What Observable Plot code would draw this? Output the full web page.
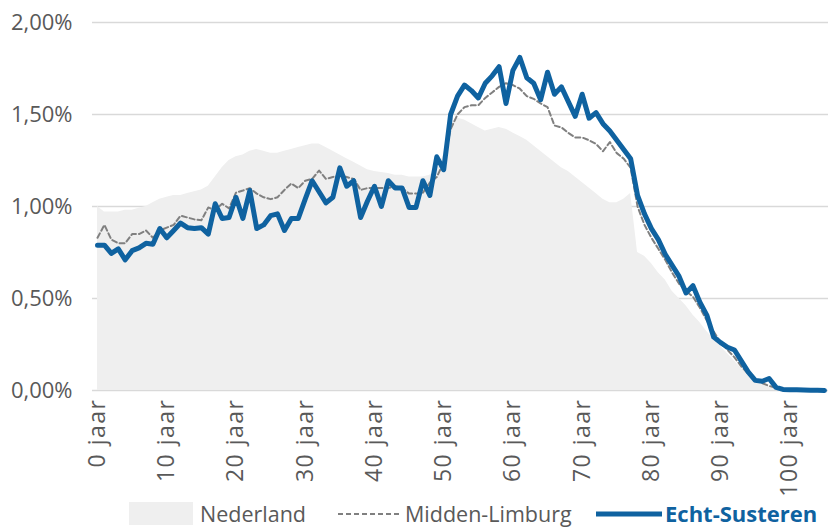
<!DOCTYPE html>
<html>
<head>
<meta charset="utf-8">
<script src="https://cdn.jsdelivr.net/npm/d3@7"></script>
<script src="https://cdn.jsdelivr.net/npm/@observablehq/plot@0.6"></script>
<style>
  html, body { margin: 0; padding: 0; background: #fff; }
  #wrap { width: 828px; font-family: "Open Sans", sans-serif; }
  #legend { position: relative; width: 828px; height: 27px; font-size: 21.5px; color: #595959; }
  #legend .it { position: absolute; top: 0; height: 27px; line-height: 27px; white-space: nowrap; }
</style>
</head>
<body>
<div id="wrap">
  <div id="chart"></div>
  <div id="legend"></div>
</div>
<script>
const ages = [0,1,2,3,4,5,6,7,8,9,10,11,12,13,14,15,16,17,18,19,20,21,22,23,24,25,26,27,28,29,30,31,32,33,34,35,36,37,38,39,40,41,42,43,44,45,46,47,48,49,50,51,52,53,54,55,56,57,58,59,60,61,62,63,64,65,66,67,68,69,70,71,72,73,74,75,76,77,78,79,80,81,82,83,84,85,86,87,88,89,90,91,92,93,94,95,96,97,98,99,100,101,102,103,104,105];

const nederland = [1.00,0.97,0.97,0.97,0.98,0.98,0.99,1.00,1.02,1.04,1.05,1.06,1.06,1.07,1.08,1.09,1.11,1.16,1.21,1.25,1.27,1.28,1.30,1.31,1.30,1.29,1.29,1.30,1.31,1.32,1.33,1.34,1.34,1.32,1.30,1.28,1.26,1.24,1.22,1.20,1.19,1.185,1.18,1.17,1.17,1.16,1.16,1.16,1.17,1.20,1.28,1.45,1.48,1.47,1.45,1.43,1.41,1.42,1.43,1.42,1.40,1.38,1.36,1.33,1.30,1.27,1.24,1.21,1.19,1.16,1.13,1.10,1.07,1.04,1.02,1.02,1.04,1.07,0.75,0.73,0.69,0.64,0.60,0.54,0.50,0.46,0.41,0.37,0.32,0.28,0.24,0.20,0.16,0.12,0.09,0.06,0.04,0.02,0.015,0.01,0.006,0.004,0.002,0.001,0.001,0];

const middenLimburg = [0.83,0.90,0.82,0.80,0.80,0.85,0.85,0.87,0.83,0.87,0.885,0.90,0.95,0.94,0.93,0.925,0.995,0.98,1.015,0.99,1.075,1.087,1.10,1.07,1.05,1.04,1.05,1.09,1.125,1.10,1.14,1.15,1.195,1.15,1.16,1.17,1.16,1.15,1.09,1.10,1.10,1.10,1.10,1.11,1.10,1.07,1.07,1.075,1.13,1.16,1.24,1.42,1.50,1.54,1.55,1.55,1.59,1.62,1.65,1.67,1.66,1.64,1.60,1.585,1.56,1.54,1.44,1.43,1.40,1.375,1.375,1.36,1.34,1.30,1.35,1.29,1.26,1.21,1.00,0.90,0.83,0.77,0.71,0.64,0.58,0.54,0.51,0.45,0.38,0.32,0.26,0.22,0.18,0.13,0.09,0.06,0.04,0.025,0.014,0.008,0.005,0.003,0.002,0.001,0.001,0];

const echtSusteren = [0.79,0.79,0.745,0.77,0.71,0.76,0.775,0.80,0.795,0.88,0.83,0.87,0.91,0.885,0.88,0.885,0.85,1.015,0.935,0.94,1.05,0.935,1.087,0.88,0.90,0.95,0.96,0.87,0.935,0.935,1.04,1.14,1.08,1.02,1.05,1.21,1.11,1.14,0.94,1.03,1.11,1.00,1.14,1.10,1.10,0.995,0.995,1.14,1.06,1.27,1.20,1.50,1.60,1.66,1.63,1.59,1.67,1.71,1.76,1.56,1.74,1.81,1.70,1.67,1.58,1.73,1.61,1.65,1.57,1.49,1.61,1.48,1.51,1.45,1.41,1.36,1.31,1.26,1.06,0.96,0.88,0.82,0.74,0.68,0.62,0.53,0.57,0.48,0.41,0.29,0.26,0.235,0.22,0.16,0.10,0.055,0.05,0.065,0.017,0.006,0.004,0.004,0.003,0.002,0.001,0];

const yTicks = [0, 0.5, 1, 1.5, 2];
const xTicks = [0, 10, 20, 30, 40, 50, 60, 70, 80, 90, 100];
const seriesNames = ["Nederland", "Midden-Limburg", "Echt-Susteren"];

const rows = ages.map((a, i) => ({age: a, nl: nederland[i], ml: middenLimburg[i], es: echtSusteren[i]}));

const blue = "#0f62a0";
const grid = "#d9d9d9";
const areaFill = "#efefef";
const dashCol = "#808080";

const chart = Plot.plot({
  width: 828,
  height: 500,
  marginLeft: 97,
  marginRight: 4,
  marginTop: 22,
  marginBottom: 110,
  style: {fontFamily: "'Open Sans', sans-serif", fontSize: "21px", color: "#595959", background: "white", overflow: "visible"},
  x: {domain: [0, 105]},
  y: {domain: [0, 2]},
  marks: [
    Plot.ruleY(yTicks, {stroke: grid, strokeWidth: 1.5, insetLeft: -5, insetRight: -4}),
    Plot.areaY(rows, {x: "age", y: "nl", fill: areaFill}),
    Plot.line(rows, {x: "age", y: "ml", stroke: dashCol, strokeWidth: 2, strokeDasharray: "5,3"}),
    Plot.line(rows, {x: "age", y: "es", stroke: blue, strokeWidth: 5, strokeLinejoin: "round"}),
    Plot.axisX(xTicks, {tickFormat: d => `${d} jaar`, tickRotate: -90, tickSize: 0, tickPadding: 8, fontSize: 23, label: null}),
    Plot.axisY(yTicks, {tickFormat: d => d.toFixed(2).replace(".", ",") + "%", tickSize: 0, tickPadding: 25, fontSize: 22, label: null})
  ]
});
d3.select(chart).selectAll('g[aria-label="x-axis tick label"] text').style("letter-spacing", "1.5px");
document.getElementById("chart").appendChild(chart);

const legend = document.getElementById("legend");
legend.innerHTML = `
  <div class="it" style="left:129px;top:2px;width:64px;height:23px;background:${areaFill}"></div>
  <div class="it" style="left:200px">${seriesNames[0]}</div>
  <svg class="it" style="left:338px" width="62" height="27"><line x1="0" x2="62" y1="14" y2="14" stroke="${dashCol}" stroke-width="2" stroke-dasharray="5,3"/></svg>
  <div class="it" style="left:405px">${seriesNames[1]}</div>
  <svg class="it" style="left:596px" width="66" height="27"><line x1="0" x2="66" y1="14" y2="14" stroke="${blue}" stroke-width="5"/></svg>
  <div class="it" style="left:665px;font-weight:bold;font-size:22px;color:${blue}">${seriesNames[2]}</div>
`;
</script>
</body>
</html>
